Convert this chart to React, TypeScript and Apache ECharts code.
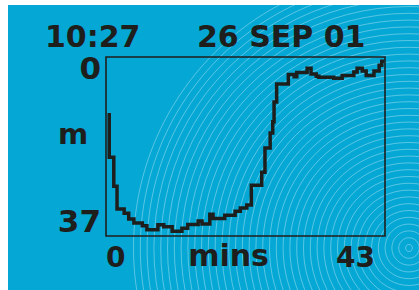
import React, { useEffect, useRef } from "react";
import * as echarts from "echarts";

const timeMin = [0.5, 0.5, 1.2, 1.7, 2.8, 3.5, 4.3, 5.6, 6.3, 8.0, 8.9, 10.2, 11.7, 12.6, 14.2, 14.8, 16.0, 16.5, 18.3, 19.9, 20.7, 21.7, 22.4, 24.0, 24.5, 25.3, 25.7, 25.9, 26.3, 28.1, 29.0, 29.4, 31.0, 31.6, 32.4, 32.8, 35.1, 36.4, 38.2, 38.7, 39.5, 40.1, 41.3, 42.1, 42.5, 42.9];
const depthM = [11.6, 20.7, 26.7, 31.4, 32.3, 33.5, 34.3, 34.9, 35.7, 34.7, 35.1, 36.0, 35.4, 34.6, 33.9, 34.5, 32.5, 33.4, 32.7, 31.9, 31.2, 30.6, 26.5, 23.8, 18.8, 15.7, 13.4, 9.3, 5.6, 3.6, 4.1, 3.2, 2.3, 3.5, 4.0, 4.2, 4.4, 3.8, 3.1, 2.3, 2.9, 3.8, 2.9, 1.7, 0.9, 0.9];
const xTicks = [0, 43];
const yTicks = [0, 37];
const timeLabel = "10:27";
const dateLabel = "26 SEP 01";
const xName = "mins";
const yName = "m";

const INK = "#1e1e1c";
const FONT = "DejaVu Sans";

export default function App() {
  const ref = useRef<HTMLDivElement>(null);
  useEffect(() => {
    if (!ref.current) return;
    const chart = echarts.init(ref.current, null, { renderer: "svg" });
    const rings: any[] = [];
    for (let r = 3.5; r <= 280; r += 6.8) {
      rings.push({
        type: "circle",
        silent: true,
        z: 0,
        shape: { cx: 401, cy: 243, r },
        style: { fill: "none", stroke: "rgba(255,255,255,0.42)", lineWidth: 0.8 },
      });
    }
    const data = timeMin.map((t, i) => [t, depthM[i]]);
    const lbl = { fontFamily: FONT, fontWeight: "bold", color: INK };
    chart.setOption({
      animation: false,
      backgroundColor: "#05A8D5",
      grid: {
        left: 98,
        top: 52,
        width: 279,
        height: 179,
        show: true,
        borderColor: INK,
        borderWidth: 1.6,
        backgroundColor: "transparent",
        z: 1,
      },
      xAxis: {
        type: "value",
        min: xTicks[0],
        max: xTicks[1],
        interval: xTicks[1] - xTicks[0],
        axisLine: { show: false },
        axisTick: { show: false },
        splitLine: { show: false },
        axisLabel: {
          margin: 9,
          ...lbl,
          fontSize: 28,
          alignMinLabel: "left",
          alignMaxLabel: "right",
          formatter: (v: number) => (v === xTicks[1] ? "{r|" + v + "}" : "{l|" + v + "}"),
          rich: {
            l: { ...lbl, fontSize: 28, lineHeight: 24 },
            r: { ...lbl, fontSize: 28, lineHeight: 24, padding: [0, 10, 0, 0] },
          },
        },
      },
      yAxis: {
        type: "value",
        inverse: true,
        min: yTicks[0],
        max: yTicks[1],
        interval: yTicks[1] - yTicks[0],
        axisLine: { show: false },
        axisTick: { show: false },
        splitLine: { show: false },
        axisLabel: {
          margin: 5,
          ...lbl,
          fontSize: 31,
          verticalAlignMinLabel: "top",
          verticalAlignMaxLabel: "bottom",
          formatter: (v: number) => (v === yTicks[0] ? "{t|" + v + "}" : "{b|" + v + "}"),
          rich: {
            t: { ...lbl, fontSize: 31, lineHeight: 22 },
            b: { ...lbl, fontSize: 31, lineHeight: 31 },
          },
        },
      },
      graphic: [
        ...rings,
        {
          type: "text",
          z: 10,
          x: 37,
          y: 31,
          style: { text: timeLabel, fill: INK, font: `bold 30px '${FONT}'`, verticalAlign: "middle", align: "left" },
        },
        {
          type: "text",
          z: 10,
          x: 189,
          y: 31,
          style: { text: dateLabel, fill: INK, font: `bold 30px '${FONT}'`, verticalAlign: "middle", align: "left" },
        },
        {
          type: "text",
          z: 10,
          x: 65,
          y: 128.5,
          style: { text: yName, fill: INK, font: `bold 29px '${FONT}'`, verticalAlign: "middle", align: "center" },
        },
        {
          type: "text",
          z: 10,
          x: 220.5,
          y: 250,
          style: { text: xName, fill: INK, font: `bold 30px '${FONT}'`, verticalAlign: "middle", align: "center" },
        },
      ],
      series: [
        {
          type: "line",
          step: "end",
          data,
          showSymbol: false,
          symbol: "none",
          z: 5,
          lineStyle: { color: INK, width: 3.5, join: "miter", cap: "butt" },
        },
      ],
    });
    return () => chart.dispose();
  }, []);
  return <div ref={ref} style={{ position: "fixed", left: 8, top: 5, width: 411, height: 285 }} />;
}
